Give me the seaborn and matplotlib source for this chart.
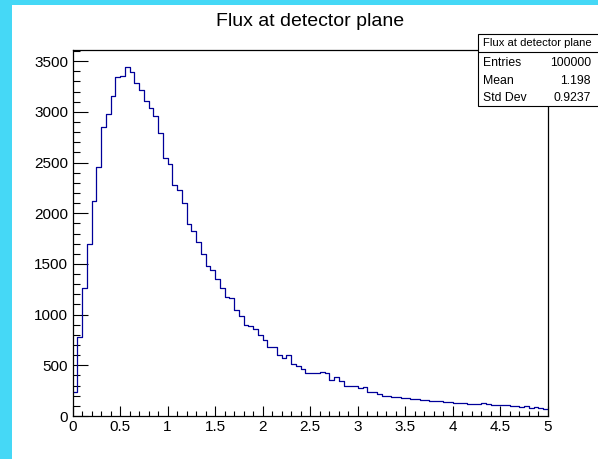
import numpy as np
import pandas as pd
import matplotlib
matplotlib.use("Agg")
import matplotlib.pyplot as plt
import seaborn as sns
from matplotlib.patches import Rectangle
from matplotlib.lines import Line2D
from matplotlib.ticker import MultipleLocator, FixedLocator

# ---------------- data ----------------
title = "Flux at detector plane"
bin_lo, bin_hi, n_bins = 0.0, 5.0, 100
counts = [
    240, 784, 1262, 1697, 2119, 2455, 2851, 2983, 3154, 3339,
    3350, 3444, 3393, 3285, 3220, 3108, 3042, 2959, 2788, 2545,
    2482, 2276, 2227, 2103, 1897, 1822, 1713, 1600, 1483, 1443,
    1351, 1266, 1176, 1162, 1045, 982, 900, 890, 860, 801,
    751, 679, 679, 603, 570, 606, 512, 493, 463, 422,
    422, 422, 438, 428, 356, 382, 346, 297, 297, 297,
    274, 284, 240, 240, 214, 198, 198, 185, 185, 180,
    175, 172, 168, 162, 158, 150, 145, 148, 140, 135,
    130, 125, 128, 120, 115, 118, 125, 122, 110, 113,
    108, 105, 102, 96, 92, 95, 80, 86, 74, 70,
]
x_ticks = [0, 0.5, 1, 1.5, 2, 2.5, 3, 3.5, 4, 4.5, 5]
x_tick_labels = ["0", "0.5", "1", "1.5", "2", "2.5", "3", "3.5", "4", "4.5", "5"]
y_ticks = [0, 500, 1000, 1500, 2000, 2500, 3000, 3500]
y_tick_labels = ["0", "500", "1000", "1500", "2000", "2500", "3000", "3500"]
stats_title = "Flux at detector plane"
stats_labels = ["Entries", "Mean", "Std Dev"]
stats_values = ["100000", "1.198", "0.9237"]

edges = np.linspace(bin_lo, bin_hi, n_bins + 1)
centers = 0.5 * (edges[:-1] + edges[1:])
df = pd.DataFrame({"energy": centers, "entries": counts})

# ---------------- style ----------------
sns.set_theme(style="white")
plt.rcParams["font.family"] = ["Liberation Sans", "DejaVu Sans"]

W, H = 598, 459
fig = plt.figure(figsize=(W / 100, H / 100), dpi=100)
fig.patch.set_facecolor("white")

def fx(px):
    return px / W

def fy(py):
    return 1 - py / H

ax_l, ax_r, ax_t, ax_b = 72.5, 548, 50, 416
ax = fig.add_axes([fx(ax_l), fy(ax_b), (ax_r - ax_l) / W, (ax_b - ax_t) / H])
ax.set_facecolor("white")

sns.histplot(data=df, x="energy", weights="entries", bins=edges.tolist(),
             element="step", fill=False, color="#000099",
             linewidth=0.9, ax=ax)

ax.set_xlim(0, 5)
ax.set_ylim(0, 3610)
ax.set_xlabel("")
ax.set_ylabel("")

ax.xaxis.set_major_locator(FixedLocator(x_ticks))
ax.set_xticklabels(x_tick_labels)
ax.xaxis.set_minor_locator(MultipleLocator(0.1))
ax.yaxis.set_major_locator(FixedLocator(y_ticks))
ax.set_yticklabels(y_tick_labels)
ax.yaxis.set_minor_locator(MultipleLocator(100))

ax.tick_params(axis="x", which="major", direction="in", length=7, width=0.8,
               color="black", labelsize=11, pad=3, bottom=True, top=False)
ax.tick_params(axis="x", which="minor", direction="in", length=3.6, width=0.8,
               color="black", bottom=True, top=False)
ax.tick_params(axis="y", which="major", direction="in", length=10.5, width=0.8,
               color="black", labelsize=11, pad=3.2, left=True, right=False)
ax.tick_params(axis="y", which="minor", direction="in", length=5.3, width=0.8,
               color="black", left=True, right=False)
for lab in ax.get_xticklabels() + ax.get_yticklabels():
    lab.set_color("black")

for s in ax.spines.values():
    s.set_visible(True)
    s.set_color("black")
    s.set_linewidth(0.9)

# ---------------- title ----------------
fig.text(fx(310), fy(21), title, ha="center", va="center", fontsize=14,
         color="black")

# ---------------- stats box ----------------
bx_l, bx_r, bx_t, bx_b, bx_sep = 477.5, 602, 34, 106, 52
fig.add_artist(Rectangle((fx(bx_l), fy(bx_b)), (bx_r - bx_l) / W,
                         (bx_b - bx_t) / H, transform=fig.transFigure,
                         facecolor="white", edgecolor="black", linewidth=0.8,
                         zorder=10))
fig.add_artist(Line2D([fx(bx_l), fx(bx_r)], [fy(bx_sep), fy(bx_sep)],
                      transform=fig.transFigure, color="black", linewidth=0.8,
                      zorder=11))
fig.text(fx(537), fy(43.5), stats_title, ha="center", va="center",
         fontsize=8.1, color="black", zorder=12)
row_y = [62.5, 81, 98]
for lab, val, yy in zip(stats_labels, stats_values, row_y):
    fig.text(fx(483), fy(yy), lab, ha="left", va="center", fontsize=8.8,
             color="black", zorder=12)
    fig.text(fx(591), fy(yy), val, ha="right", va="center", fontsize=8.8,
             color="black", zorder=12)

# ---------------- cyan window frame ----------------
cyan = "#45d8f6"
fig.add_artist(Rectangle((0, 0), fx(11.5), 1, transform=fig.transFigure,
                         facecolor=cyan, edgecolor="none", zorder=20))
fig.add_artist(Rectangle((0, fy(4.7)), 1, 4.7 / H, transform=fig.transFigure,
                         facecolor=cyan, edgecolor="none", zorder=20))

fig.savefig("out.png", dpi=100, facecolor="white")
